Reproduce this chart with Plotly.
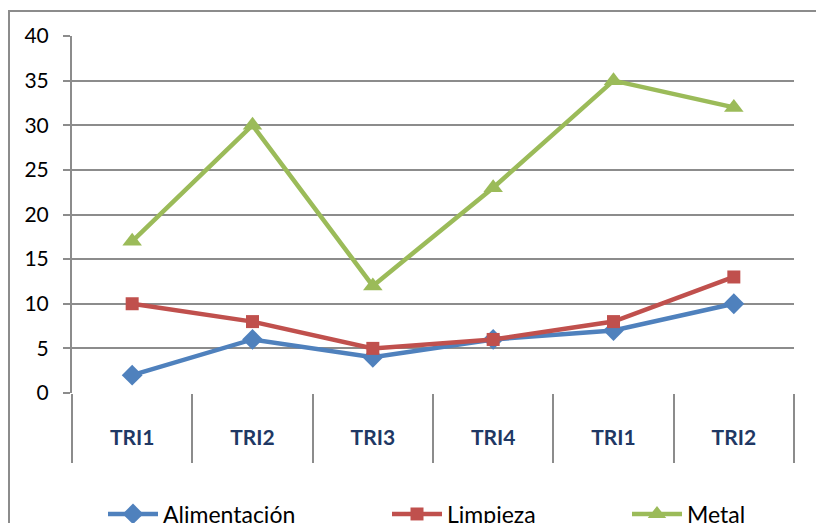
import plotly.graph_objects as go

categories = ["TRI1", "TRI2", "TRI3", "TRI4", "TRI1", "TRI2"]
alimentacion = [2, 6, 4, 6, 7, 10]
limpieza = [10, 8, 5, 6, 8, 13]
metal = [17, 30, 12, 23, 35, 32]
y_ticks = [0, 5, 10, 15, 20, 25, 30, 35, 40]

positions = list(range(1, len(categories) + 1))
boundaries = [p - 0.5 for p in positions] + [positions[-1] + 0.5]

FONT = "Lato"
OFF = 8  # page offset of the figure div
W, H = 824, 523
L, R, T, B = 72 - OFF, 38, 36 - OFF, 138
pw, ph = W - L - R, H - T - B

def px_x(x):
    return (x - OFF - L) / pw

def px_y(y):
    return (H - B - (y - OFF)) / ph

def cont_y(y):
    return (H - (y - OFF)) / H

fig = go.Figure()
series = [
    ("Alimentación", alimentacion, "#4F81BD", "diamond", 16, "legend"),
    ("Limpieza", limpieza, "#C0504D", "square", 13, "legend2"),
    ("Metal", metal, "#9BBB59", "triangle-up", 17, "legend3"),
]
for name, vals, color, sym, size, leg in series:
    fig.add_trace(go.Scatter(
        x=positions, y=vals, name=name, mode="lines+markers",
        line=dict(color=color, width=4.5),
        marker=dict(symbol=sym, size=size, color=color),
        legend=leg,
    ))

legend_common = dict(orientation="h", yanchor="middle", xanchor="left",
                     yref="container",
                     font=dict(family=FONT, size=23, color="#000000"),
                     itemwidth=50,
                     bgcolor="rgba(0,0,0,0)", y=cont_y(514))

fig.update_layout(
    width=W, height=H,
    margin=dict(l=L, r=R, t=T, b=B),
    paper_bgcolor="white", plot_bgcolor="white",
    showlegend=True,
    legend=dict(x=px_x(103), **legend_common),
    legend2=dict(x=px_x(387), **legend_common),
    legend3=dict(x=px_x(627), **legend_common),
    xaxis=dict(
        range=[0.5, len(categories) + 0.5],
        tickvals=positions, ticktext=categories,
        ticks="", showgrid=False, zeroline=False,
        showline=False, automargin=False,
        tickfont=dict(family=FONT, size=21, color="#1F3864", weight="bold"),
        ticklabelstandoff=30,
        minor=dict(tickvals=boundaries, ticks="outside", ticklen=69,
                   tickwidth=2, tickcolor="#8C8C8C", showgrid=False),
    ),
    yaxis=dict(
        range=[0, 40], tickvals=y_ticks, automargin=False,
        showgrid=True, gridcolor="#8C8C8C", gridwidth=2,
        zeroline=False, showline=True, linecolor="#8C8C8C", linewidth=2,
        ticks="outside", ticklen=7, tickwidth=2, tickcolor="#8C8C8C",
        tickfont=dict(family=FONT, size=21, color="#000000"),
        ticklabelstandoff=10,
    ),
    shapes=[dict(type="rect", xref="paper", yref="paper",
                 x0=px_x(9), x1=px_x(900), y0=px_y(600), y1=px_y(11),
                 line=dict(color="#8C8C8C", width=2), layer="below")],
)
fig.write_html("out.html")
